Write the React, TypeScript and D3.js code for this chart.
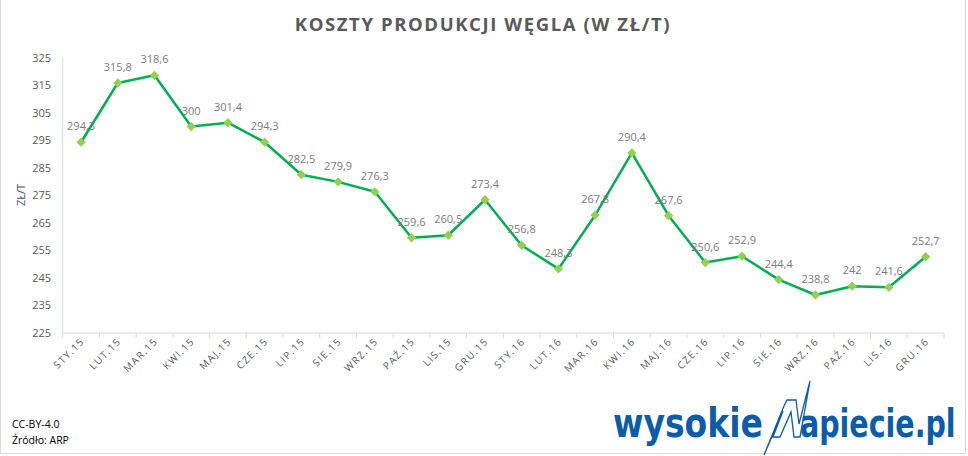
import React from "react";
import * as d3 from "d3";

const months = ["STY", "LUT", "MAR", "KWI", "MAJ", "CZE", "LIP", "SIE", "WRZ", "PAŹ", "LIS", "GRU"];
const categories = [...months.map((m) => m + ".15"), ...months.map((m) => m + ".16")];
const values = [
  294.3, 315.8, 318.6, 300, 301.4, 294.3, 282.5, 279.9, 276.3, 259.6, 260.5, 273.4,
  256.8, 248.3, 267.8, 290.4, 267.6, 250.6, 252.9, 244.4, 238.8, 242, 241.6, 252.7,
];
const yTicks = [225, 235, 245, 255, 265, 275, 285, 295, 305, 315, 325];
const title = "KOSZTY PRODUKCJI WĘGLA (W ZŁ/T)";
const yTitle = "ZŁ/T";

const W = 968;
const H = 456;

export default function App() {
  const x = d3.scaleBand<string>().domain(categories).range([62.7, 944]);
  const y = d3.scaleLinear().domain([225, 325]).range([333, 57.7]);
  const cx = (c: string) => (x(c) ?? 0) + x.bandwidth() / 2;
  const line = d3
    .line<number>()
    .x((_, i) => cx(categories[i]))
    .y((v) => y(v));
  const fmt = (v: number) => String(v).replace(".", ",");
  const diamond = d3.symbol().type(d3.symbolDiamond2).size(55)();
  const axisColor = "#d9d9d9";
  const textColor = "#595959";
  const blue = "#0b5cab";

  return (
    <svg width={W} height={H} style={{ position: "absolute", left: 0, top: 0 }} fontFamily="'Open Sans', sans-serif">
      <rect x={0} y={0} width={W} height={H} fill="#fff" />
      <rect x={0.5} y={-1} width={965} height={454.5} fill="none" stroke="#d9d9d9" />
      <text x={483} y={31} textAnchor="middle" fontSize={18.5} fontWeight={700} fill={textColor} letterSpacing={1.6}>
        {title}
      </text>
      {/* y axis */}
      <line x1={62.7} x2={62.7} y1={y(325)} y2={y(225)} stroke={axisColor} />
      {yTicks.map((t) => (
        <text key={t} x={51} y={y(t) + 4} textAnchor="end" fontSize={11} fill={textColor}>
          {t}
        </text>
      ))}
      <text transform={`translate(25,195) rotate(-90)`} textAnchor="middle" fontSize={11} fill="#44546a">
        {yTitle}
      </text>
      {/* x axis */}
      <line x1={62.7} x2={944} y1={y(225)} y2={y(225)} stroke={axisColor} />
      {categories.map((c) => (
        <line key={"t" + c} x1={x(c)} x2={x(c)} y1={y(225)} y2={y(225) + 5} stroke={axisColor} />
      ))}
      <line x1={944} x2={944} y1={y(225)} y2={y(225) + 5} stroke={axisColor} />
      {categories.map((c) => (
        <text
          key={"l" + c}
          transform={`translate(${cx(c) + 4},${y(225) + 9}) rotate(-45)`}
          textAnchor="end"
          fontSize={10}
          letterSpacing={1.3}
          fill={textColor}
        >
          {c}
        </text>
      ))}
      {/* series */}
      <path d={line(values) ?? ""} fill="none" stroke="#00b050" strokeWidth={2.5} strokeLinejoin="round" />
      {values.map((v, i) => (
        <path key={"m" + i} d={diamond ?? ""} transform={`translate(${cx(categories[i])},${y(v)})`} fill="#92d050" />
      ))}
      {values.map((v, i) => (
        <text key={"d" + i} x={cx(categories[i])} y={y(v) - 12} textAnchor="middle" fontSize={11} fill="#7b7b7b">
          {fmt(v)}
        </text>
      ))}
      {/* footer */}
      <text x={12} y={428} fontSize={10.5} fill="#000">CC-BY-4.0</text>
      <text x={12} y={444} fontSize={10.5} fill="#000">Źródło: ARP</text>
      {/* logo */}
      <text
        transform={`translate(613,437) scale(1,${(40 / 33).toFixed(3)})`}
        fontSize={33}
        fontWeight={700}
        fill={blue}
        fontFamily="'DejaVu Sans', sans-serif"
      >
        wysokie
      </text>
      <path
        d="M764,455 L784,406 L787,400 L796,400 L799,424 L810,381 L800,437 L794,437 L791,412 L780,437 L773,437 L783,411 Z"
        fill="none"
        stroke={blue}
        strokeWidth={1.3}
        strokeLinejoin="miter"
      />
      <text
        transform={`translate(800,437) scale(1,${(39 / 28.5).toFixed(3)})`}
        fontSize={28.5}
        fontWeight={700}
        fill={blue}
        fontFamily="'DejaVu Sans', sans-serif"
      >
        apiecie.pl
      </text>
    </svg>
  );
}
